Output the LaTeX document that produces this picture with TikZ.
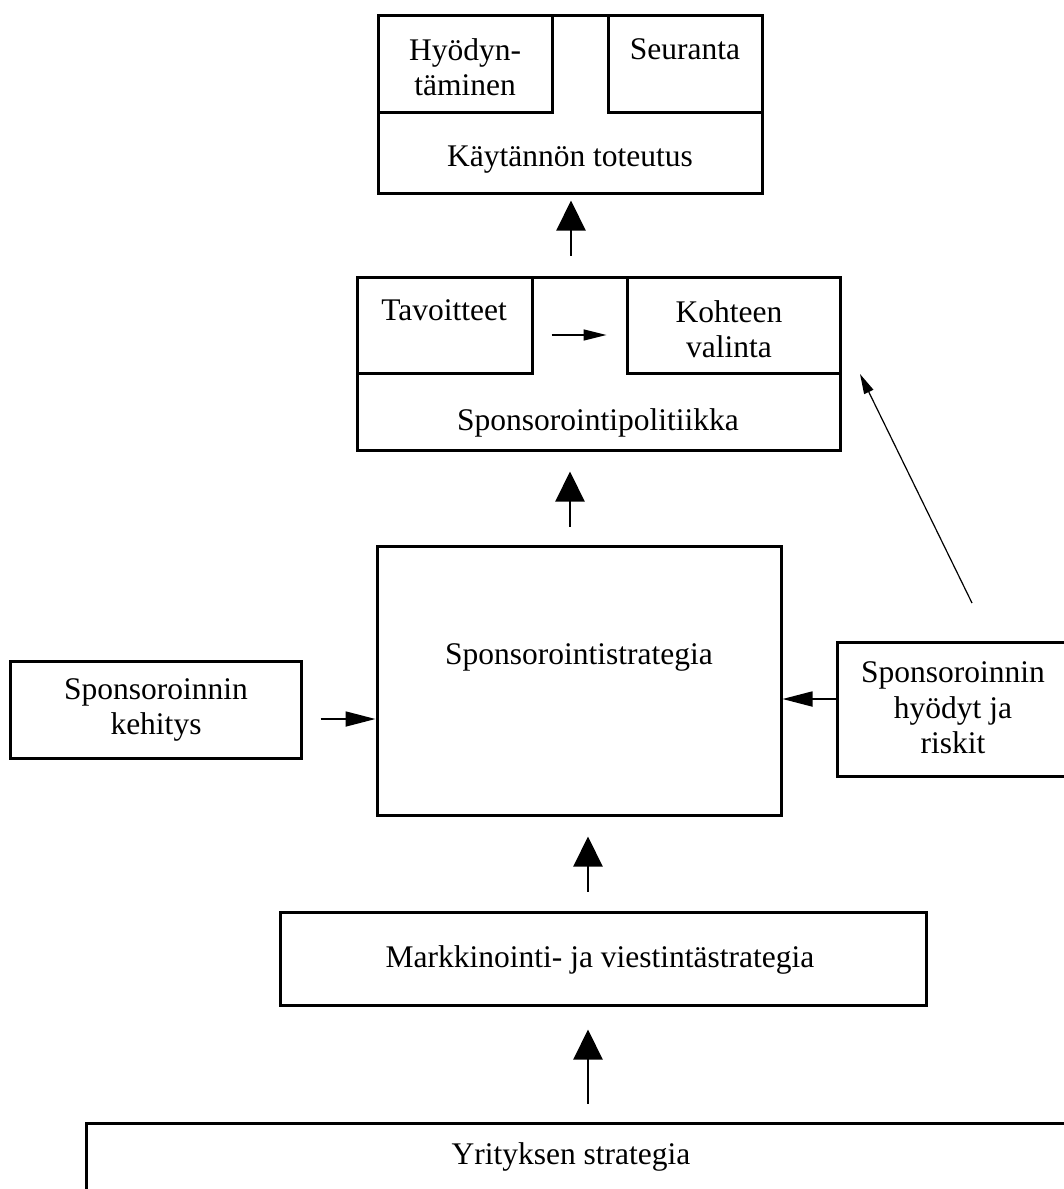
\documentclass[tikz,border=0pt]{standalone}
\usepackage{fontspec}
\setmainfont{Liberation Serif}
\usetikzlibrary{arrows.meta}

\tikzset{
  box/.style={draw, line width=3pt, inner sep=0pt},
  lbl/.style={font=\fontsize{31.5}{35.5}\selectfont, align=center, inner sep=0pt},
  bigarrow/.style={line width=2.2pt, -{Triangle[length=30pt,width=29pt]}},
  sidearrow/.style={line width=1.8pt, -{Triangle[length=30pt,width=15pt]}},
  smallarrow/.style={line width=1.5pt, -{Triangle[length=23pt,width=11pt]}},
  thinarrow/.style={line width=1.2pt, -{Triangle[length=20pt,width=10pt]}},
}

\begin{document}
\begin{tikzpicture}[x=1pt, y=-1pt]
\useasboundingbox (0,0) rectangle (1064,1189);

% Käytännön toteutus (top block)
\node[box, minimum width=384pt, minimum height=178pt] (T) at (570,104) {};
\node[box, minimum width=174pt, minimum height=97pt, anchor=north west] (T1) at (T.north west) {};
\node[box, minimum width=154pt, minimum height=97pt, anchor=north east] (T2) at (T.north east) {};
\node[lbl] (T1txt) at (465,67) {Hyödyn-\\täminen};
\node[lbl] (T2txt) at (685,49) {Seuranta};
\node[lbl] (Ttxt) at (570,160) {Käytännön toteutus};

% Sponsorointipolitiikka
\node[box, minimum width=483pt, minimum height=173pt] (P) at (598.5,363.5) {};
\node[box, minimum width=175pt, minimum height=96pt, anchor=north west] (P1) at (P.north west) {};
\node[box, minimum width=213pt, minimum height=96pt, anchor=north east] (P2) at (P.north east) {};
\node[lbl] (P1txt) at (444,310) {Tavoitteet};
\node[lbl] (P2txt) at (729,329) {Kohteen\\valinta};
\node[lbl] (Ptxt) at (598,423) {Sponsorointipolitiikka};

% Sponsorointistrategia
\node[box, minimum width=404pt, minimum height=269pt] (S) at (579,680.5) {};
\node[lbl] (Stxt) at (579,657) {Sponsorointistrategia};

% Side inputs
\node[box, minimum width=291pt, minimum height=97pt] (L) at (155.5,709.5) {};
\node[lbl] (Ltxt) at (156,710) {Sponsoroinnin\\kehitys};
\node[box, minimum width=240pt, minimum height=134pt] (R) at (957,709) {};
\node[lbl] (Rtxt) at (953,708) {Sponsoroinnin\\hyödyt ja\\riskit};

% Markkinointi- ja viestintästrategia
\node[box, minimum width=646pt, minimum height=93pt] (M) at (603,958.5) {};
\node[lbl] (Mtxt) at (600,960) {Markkinointi- ja viestintästrategia};

% Yrityksen strategia
\node[box, minimum width=1014pt, minimum height=110pt] (Y) at (593,1178) {};
\node[lbl] (Ytxt) at (571,1157) {Yrityksen strategia};

% axes of the vertical arrows
\coordinate (ax1) at (571,0);
\coordinate (ax2) at (570,0);
\coordinate (ax3) at (588,0);

% vertical flow
\draw[bigarrow, shorten <=20pt, shorten >=6pt] (ax1 |- P.north) -- (ax1 |- T.south);
\draw[bigarrow, shorten <=18pt, shorten >=20pt] (ax2 |- S.north) -- (ax2 |- P.south);
\draw[bigarrow, shorten <=19pt, shorten >=20pt] (ax3 |- M.north) -- (ax3 |- S.south);
\draw[bigarrow, shorten <=18pt, shorten >=23pt] (ax3 |- Y.north) -- (ax3 |- M.south);

% horizontal inputs
\coordinate (hl) at (0,719);
\coordinate (hr) at (0,699);
\coordinate (hp) at (0,335);
\draw[sidearrow, shorten <=18pt] (L.east |- hl) -- (S.west |- hl);
\draw[sidearrow] (R.west |- hr) -- (S.east |- hr);
\draw[smallarrow, shorten <=18pt, shorten >=19pt] (P1.east |- hp) -- (P2.west |- hp);

% benefits and risks feeding target selection
\coordinate (riskfrom) at (972,603);
\coordinate (riskto) at (860,374);
\draw[thinarrow] (riskfrom) -- (riskto);

\end{tikzpicture}
\end{document}
